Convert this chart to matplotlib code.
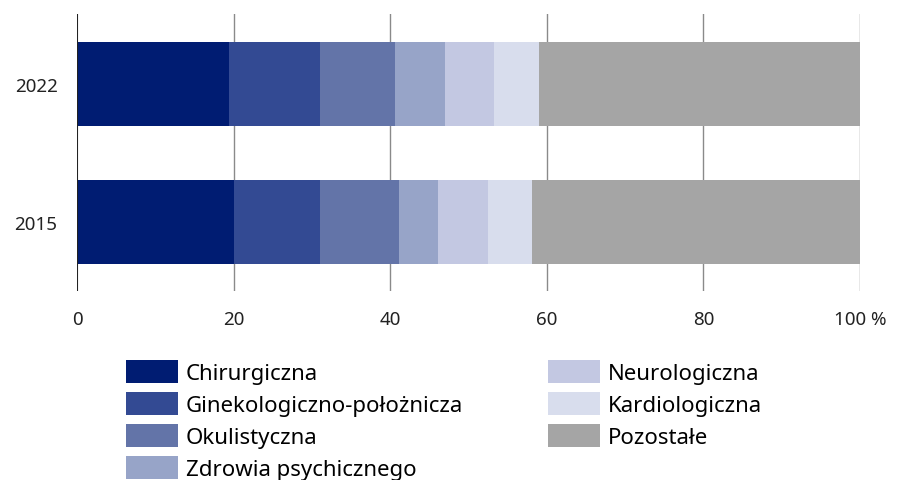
import matplotlib.pyplot as plt
import numpy as np

# dane (udział w %)
years = ['2015', '2022']
categories = ['Chirurgiczna', 'Ginekologiczno-położnicza', 'Okulistyczna',
              'Zdrowia psychicznego', 'Neurologiczna', 'Kardiologiczna', 'Pozostałe']
values_2015 = [20.0, 11.0, 10.1, 5.0, 6.4, 5.6, 41.9]
values_2022 = [19.4, 11.6, 9.6, 6.4, 6.3, 5.7, 41.0]
colors = ['#001c72', '#334a93', '#6374a8', '#97a4c8', '#c3c8e2', '#d8dded', '#a5a5a5']
ticks = [0, 20, 40, 60, 80, 100]
tick_labels = ['0', '20', '40', '60', '80', '100 %']

plt.rcParams['font.family'] = ['Noto Sans', 'DejaVu Sans']

fig = plt.figure(figsize=(8.99, 4.81), dpi=100)
ax = fig.add_axes([77 / 899, 1 - 292 / 481, (860 - 77) / 899, 277 / 481])

data = np.array([values_2015, values_2022])
left = np.zeros(len(years))
for i, cat in enumerate(categories):
    ax.barh(years, data[:, i], left=left, height=0.61, color=colors[i], label=cat, zorder=2)
    left += data[:, i]

ax.set_xlim(0, 100)
ax.set_ylim(-0.505, 1.51)
ax.set_xticks(ticks)
ax.set_xticklabels(tick_labels)
for x in ticks[1:]:
    ax.axvline(x, color='#8a8a8a', linewidth=1, zorder=1)
ax.axvline(0, color='#222222', linewidth=1.5, zorder=3)
for s in ax.spines.values():
    s.set_visible(False)
ax.tick_params(length=0, labelsize=13.5, colors='#222222')
ax.tick_params(axis='x', pad=14)
ax.tick_params(axis='y', pad=14)

fig.legend(loc='upper left', bbox_to_anchor=(126 / 899, 1 - 361 / 481), ncol=2,
           frameon=False, fontsize=16, handlelength=2.34, handleheight=1.22,
           handletextpad=0.36, labelspacing=0.36, columnspacing=3.8,
           borderpad=0, borderaxespad=0)

fig.savefig('out.png', dpi=100)
